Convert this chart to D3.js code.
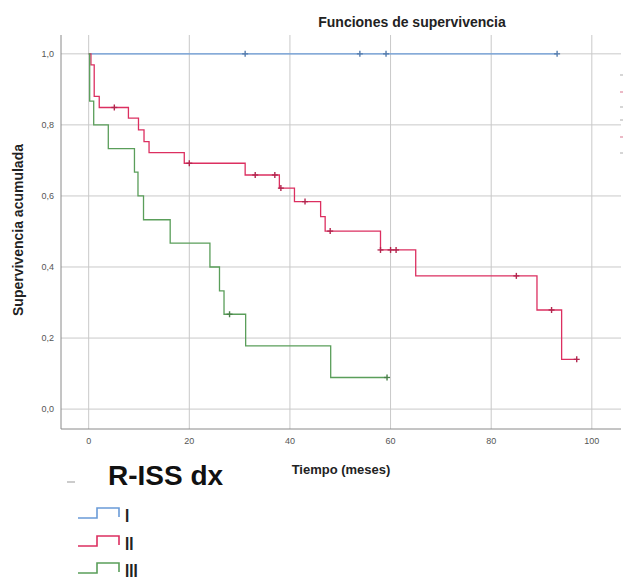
<!DOCTYPE html>
<html>
<head>
<meta charset="utf-8">
<script src="https://cdn.jsdelivr.net/npm/d3@7"></script>
<style>
  body { margin: 0; background: #fff; }
  svg { display: block; font-family: "Liberation Sans", Arial, sans-serif; }
</style>
</head>
<body>
<div id="chart"></div>
<script>
// Kaplan-Meier steps (time in months, cumulative survival)
const seriesNames = ['I', 'II', 'III'];
const colors = ['#6a9bd8', '#dc2f60', '#5a9e5a'];

const timesI = [0, 93.1];
const survI = [1, 1];
const censorI = [31.1, 53.9, 59.1, 93.1];

const timesII = [0, 0.45, 1.1, 2.1, 7.9, 9.9, 11.0, 12.0, 19.0, 31.1, 37.9, 40.9, 46.1, 47.0, 58.0, 65.0, 89.1, 94.0, 97.0];
const survII = [1, 0.969, 0.88, 0.849, 0.819, 0.786, 0.753, 0.722, 0.692, 0.659, 0.622, 0.584, 0.542, 0.501, 0.448, 0.375, 0.279, 0.140, 0.140];
const censorII = [5.1, 20.0, 33.1, 37.0, 38.2, 43.0, 48.0, 58.0, 60.0, 61.1, 85.0, 92.0, 97.0];

const timesIII = [0, 0.2, 1.0, 3.9, 9.1, 9.8, 10.9, 16.2, 24.1, 26.0, 26.9, 31.2, 48.1, 59.3];
const survIII = [1, 0.867, 0.8, 0.733, 0.667, 0.6, 0.533, 0.467, 0.4, 0.333, 0.267, 0.178, 0.089, 0.089];
const censorIII = [28.0, 59.3];

const xTicks = [0, 20, 40, 60, 80, 100];
const yTicks = [0, 0.2, 0.4, 0.6, 0.8, 1.0];

const series = [
  { times: timesI, surv: survI, censor: censorI },
  { times: timesII, surv: survII, censor: censorII },
  { times: timesIII, surv: survIII, censor: censorIII }
];

const W = 626, H = 582;
const svg = d3.select('#chart').append('svg').attr('width', W).attr('height', H);

const plot = { left: 61, right: 621, top: 35, bottom: 429 };
const x = d3.scaleLinear().domain([-5.5, 105.8]).range([plot.left, plot.right]);
const y = d3.scaleLinear().domain([-0.056, 1.053]).range([plot.bottom, plot.top]);

// grid
svg.append('g').selectAll('line').data(xTicks).enter().append('line')
  .attr('x1', d => x(d)).attr('x2', d => x(d))
  .attr('y1', plot.top).attr('y2', plot.bottom)
  .attr('stroke', '#c9c9c9').attr('stroke-width', 1);
svg.append('g').selectAll('line').data(yTicks).enter().append('line')
  .attr('x1', plot.left).attr('x2', plot.right)
  .attr('y1', d => y(d)).attr('y2', d => y(d))
  .attr('stroke', '#c9c9c9').attr('stroke-width', 1);

// axis lines
svg.append('line').attr('x1', plot.left).attr('x2', plot.left)
  .attr('y1', plot.top).attr('y2', plot.bottom).attr('stroke', '#8a8a8a');
svg.append('line').attr('x1', plot.left).attr('x2', plot.right)
  .attr('y1', plot.bottom).attr('y2', plot.bottom).attr('stroke', '#8a8a8a');

// tick labels
const fmt = d => d3.format('.1f')(d).replace('.', ',');
svg.append('g').selectAll('text').data(yTicks).enter().append('text')
  .attr('x', 54).attr('y', d => y(d) + 3)
  .attr('text-anchor', 'end')
  .style('font-size', '9px').style('fill', '#555')
  .text(fmt);
svg.append('g').selectAll('text').data(xTicks).enter().append('text')
  .attr('x', d => x(d)).attr('y', 444)
  .attr('text-anchor', 'middle')
  .style('font-size', '9px').style('fill', '#555')
  .text(d => d);

// curves
const line = d3.line()
  .x(d => x(d[0])).y(d => y(d[1]))
  .curve(d3.curveStepAfter);

const stepAt = (s, t) => {
  let v = s.surv[0];
  s.times.forEach((tt, i) => { if (tt <= t) v = s.surv[i]; });
  return v;
};

series.forEach((s, k) => {
  const pts = s.times.map((t, i) => [t, s.surv[i]]);
  const mark = d3.color(colors[k]).darker(0.6);
  svg.append('path').datum(pts)
    .attr('d', line)
    .attr('fill', 'none')
    .attr('stroke', colors[k])
    .attr('stroke-width', 1.3);
  svg.append('g').selectAll('line').data(s.censor).enter().append('line')
    .attr('x1', d => x(d)).attr('x2', d => x(d))
    .attr('y1', d => y(stepAt(s, d)) - 3).attr('y2', d => y(stepAt(s, d)) + 3)
    .attr('stroke', mark)
    .attr('stroke-width', 1.4);
  svg.append('g').selectAll('line').data(s.censor).enter().append('line')
    .attr('x1', d => x(d) - 3).attr('x2', d => x(d) + 3)
    .attr('y1', d => y(stepAt(s, d))).attr('y2', d => y(stepAt(s, d)))
    .attr('stroke', mark)
    .attr('stroke-width', 1.3);
});

// faint marks at the right edge
const edgeMarks = [75, 92, 107, 120, 137, 153];
const edgeColors = ['#bbb', '#e08aa0', '#bbb', '#bbb', '#e08aa0', '#bbb'];
svg.append('g').selectAll('line').data(edgeMarks).enter().append('line')
  .attr('x1', 620).attr('x2', 623)
  .attr('y1', d => d).attr('y2', d => d)
  .attr('stroke', (d, i) => edgeColors[i]).attr('stroke-width', 1.2);

// titles
svg.append('text').attr('x', 412).attr('y', 27)
  .attr('text-anchor', 'middle')
  .style('font-size', '14px').style('font-weight', 'bold').style('fill', '#222')
  .text('Funciones de supervivencia');
svg.append('text')
  .attr('transform', 'translate(23,230) rotate(-90)')
  .attr('text-anchor', 'middle')
  .style('font-size', '14px').style('font-weight', 'bold').style('fill', '#222')
  .text('Supervivencia acumulada');
svg.append('text').attr('x', 341).attr('y', 474)
  .attr('text-anchor', 'middle')
  .style('font-size', '13px').style('font-weight', 'bold').style('fill', '#222')
  .text('Tiempo (meses)');

// legend
svg.append('line').attr('x1', 67).attr('x2', 75).attr('y1', 482).attr('y2', 482)
  .attr('stroke', '#bbb').attr('stroke-width', 1.5);
svg.append('text').attr('x', 108).attr('y', 485)
  .style('font-size', '28px').style('font-weight', 'bold').style('fill', '#111')
  .text('R-ISS dx');

const legY = [518, 546, 573];
seriesNames.forEach((name, i) => {
  const b = legY[i];
  svg.append('path')
    .attr('d', `M78,${b}H97V${b - 10}H119V${b - 1}`)
    .attr('fill', 'none').attr('stroke', colors[i]).attr('stroke-width', 1.6);
  svg.append('text')
    .attr('transform', `translate(125,${b + 4}) scale(0.8,1)`)
    .style('font-size', '19px').style('font-weight', 'bold').style('fill', '#222')
    .text(name);
});
</script>
</body>
</html>
